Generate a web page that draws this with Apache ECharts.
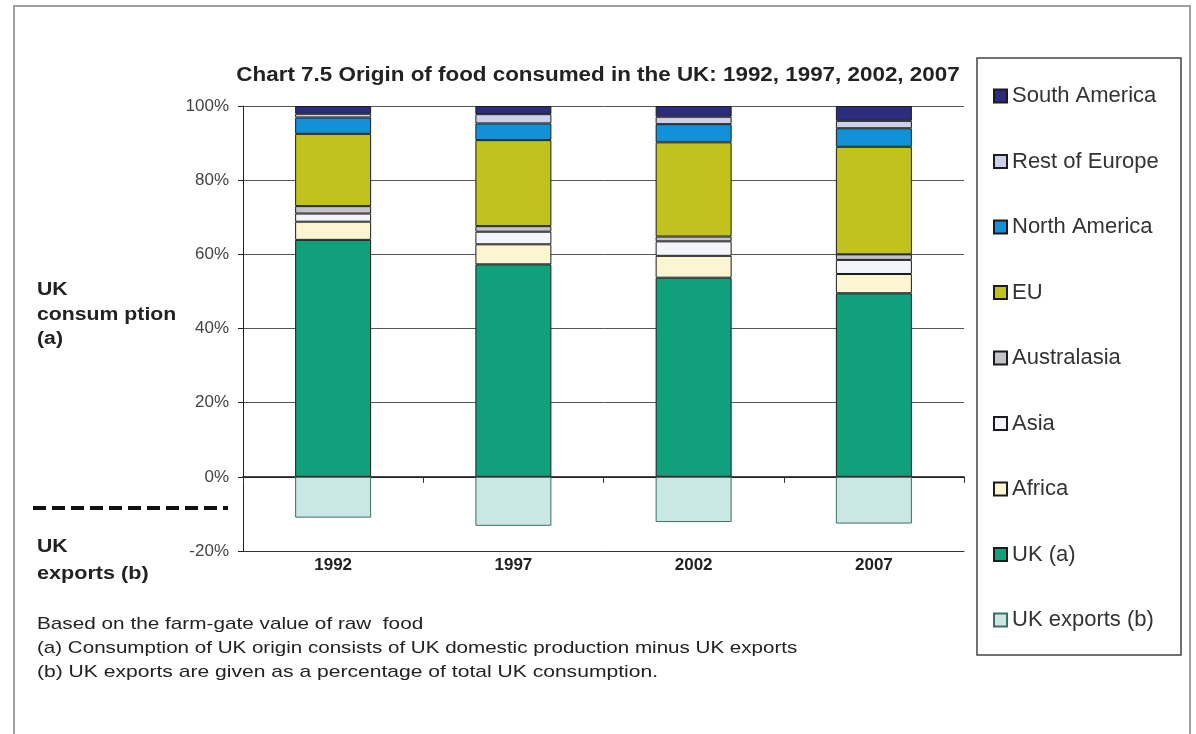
<!DOCTYPE html>
<html>
<head>
<meta charset="utf-8">
<script src="https://cdn.jsdelivr.net/npm/echarts@6/dist/echarts.min.js"></script>
<style>html,body{margin:0;padding:0;background:#fff;}#c{width:1196px;height:734px;}</style>
</head>
<body>
<div id="c"></div>
<script>
var categories = ['1992', '1997', '2002', '2007'];
var ukA         = [63.9, 57.3, 53.7, 49.5];
var africa      = [4.9, 5.4, 5.9, 5.2];
var asia        = [2.2, 3.4, 3.9, 3.8];
var australasia = [2.0, 1.5, 1.3, 1.5];
var eu          = [19.5, 23.2, 25.4, 29.0];
var northAmerica= [4.4, 4.5, 4.9, 5.0];
var restEurope  = [1.0, 2.5, 2.0, 2.0];
var southAmerica= [2.1, 2.2, 2.9, 4.0];
var ukExports   = [-11.0, -13.2, -12.2, -12.6];
var yTicks = [-20, 0, 20, 40, 60, 80, 100];

var FONT = "'Liberation Sans', Arial, sans-serif";
var chart = echarts.init(document.getElementById('c'));

function bar(name, data, color, border) {
  return {
    name: name, type: 'bar', stack: 'total', data: data, barWidth: 76,
    itemStyle: { color: color, borderColor: border || '#1c1c1c', borderWidth: 1 },
    emphasis: { disabled: true }
  };
}

var series = [
  bar('UK (a)', ukA, '#10a07b'),
  bar('Africa', africa, '#fcf5d2'),
  bar('Asia', asia, '#f3f5fb'),
  bar('Australasia', australasia, '#c3c3c8'),
  bar('EU', eu, '#c2c21e'),
  bar('North America', northAmerica, '#1290d8'),
  bar('Rest of Europe', restEurope, '#cdd0ea'),
  bar('South America', southAmerica, '#2c2c7e'),
  bar('UK exports (b)', ukExports, '#c9e7e3', '#3d6e62')
];

function txt(x, y, text, font, sx, lh, align) {
  return {
    type: 'text', x: x, y: y, scaleX: sx, silent: true,
    style: { text: text, font: font, fill: '#222', lineHeight: lh,
             align: align || 'left', verticalAlign: 'middle',
             textAlign: align || 'left', textVerticalAlign: 'middle' }
  };
}

chart.setOption({
  animation: false,
  textStyle: { fontFamily: FONT },
  legend: {
    orient: 'vertical', left: 988, top: 80,
    itemWidth: 13, itemHeight: 13, itemGap: 43.5,
    data: ['South America', 'Rest of Europe', 'North America', 'EU', 'Australasia', 'Asia', 'Africa', 'UK (a)', 'UK exports (b)'],
    icon: 'rect',
    textStyle: { fontFamily: FONT, fontSize: 22, color: '#333', lineHeight: 22 },
    selectedMode: false
  },
  grid: { left: 243, right: 232, top: 106, bottom: 183, containLabel: false },
  xAxis: [
    {
      type: 'category', data: categories, position: 'bottom',
      axisLine: { onZero: false, lineStyle: { color: '#333' } },
      axisTick: { show: false },
      axisLabel: { margin: 6, fontFamily: FONT, fontSize: 17, fontWeight: 'bold', color: '#222' }
    },
    {
      type: 'category', data: categories, position: 'bottom',
      axisLine: { onZero: true, lineStyle: { color: '#111', width: 1.5 } },
      axisTick: { show: true, length: 6, lineStyle: { color: '#333' } },
      axisLabel: { show: false }
    }
  ],
  yAxis: {
    type: 'value', min: -20, max: 100, interval: 20,
    axisLine: { show: true, lineStyle: { color: '#222' } },
    axisTick: { show: true, length: 5, lineStyle: { color: '#222' } },
    axisLabel: {
      margin: 14, fontFamily: FONT, fontSize: 17, color: '#444',
      formatter: function (v) { return yTicks.indexOf(v) >= 0 ? v + '%' : ''; }
    },
    splitLine: { show: true, lineStyle: { color: '#555', width: 1 } }
  },
  series: series,
  graphic: [
    { type: 'rect', shape: { x: 14, y: 6, width: 1176, height: 760 }, style: { fill: null, stroke: '#a0a0a0', lineWidth: 2 }, silent: true, z: 100 },
    { type: 'rect', shape: { x: 977, y: 58, width: 204, height: 597 }, style: { fill: null, stroke: '#444', lineWidth: 1.5 }, silent: true, z: 100 },
    { type: 'line', shape: { x1: 33, y1: 508, x2: 228, y2: 508 }, style: { stroke: '#111', lineWidth: 4, lineDash: [13, 6] }, silent: true },
    txt(598, 75, 'Chart 7.5 Origin of food consumed in the UK: 1992, 1997, 2002, 2007', 'bold 20px ' + FONT, 1.12, 24, 'center'),
    txt(37, 290, 'UK', 'bold 18px ' + FONT, 1.18, 24),
    txt(37, 315, 'consum ption', 'bold 18px ' + FONT, 1.18, 24),
    txt(37, 339, '(a)', 'bold 18px ' + FONT, 1.18, 24),
    txt(37, 547, 'UK', 'bold 18px ' + FONT, 1.18, 24),
    txt(37, 574, 'exports (b)', 'bold 18px ' + FONT, 1.2, 24),
    txt(37, 624, 'Based on the farm-gate value of raw  food', '17px ' + FONT, 1.22, 24),
    txt(37, 648, '(a) Consumption of UK origin consists of UK domestic production minus UK exports', '17px ' + FONT, 1.21, 24),
    txt(37, 672, '(b) UK exports are given as a percentage of total UK consumption.', '17px ' + FONT, 1.24, 24)
  ]
});
</script>
</body>
</html>
